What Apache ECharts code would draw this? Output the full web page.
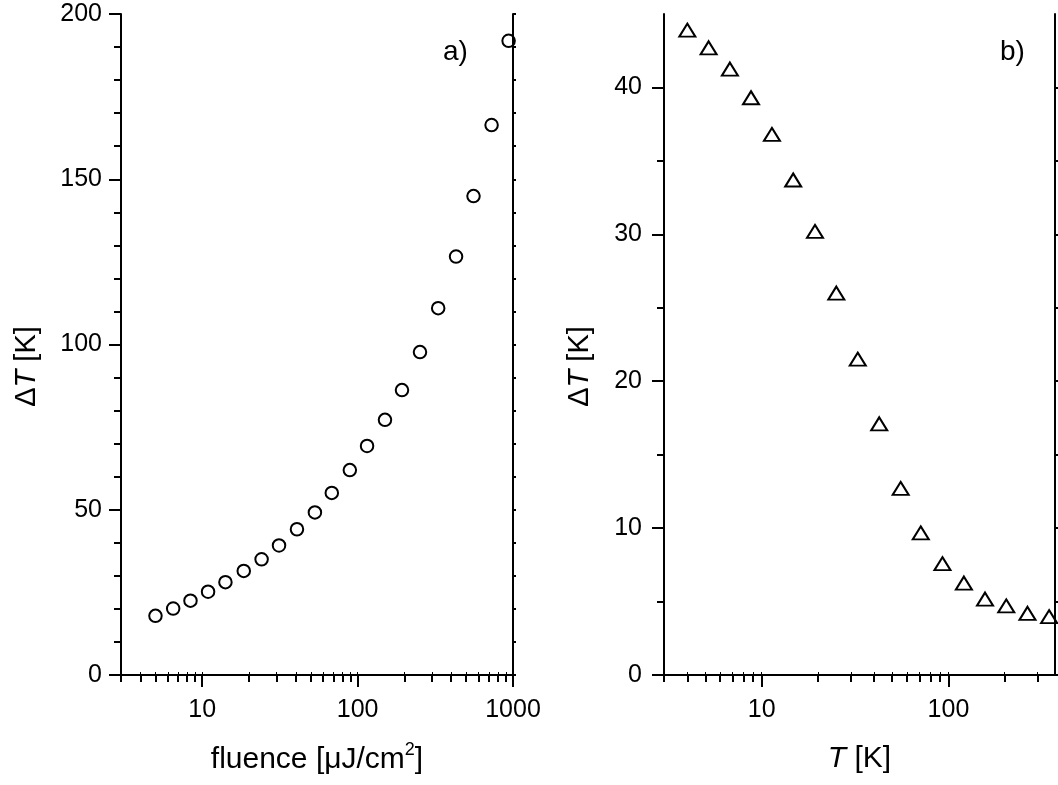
<!DOCTYPE html>
<html>
<head>
<meta charset="utf-8">
<script src="https://cdn.jsdelivr.net/npm/echarts@6/dist/echarts.min.js"></script>
<style>
html,body{margin:0;padding:0;background:#fff;}
#chart{width:1058px;height:785px;}
</style>
</head>
<body>
<div id="chart"></div>
<script>
// ---- data ----
const fluence = [5.0, 6.5, 8.4, 10.9, 14.1, 18.5, 24.1, 31.2, 40.7, 53.1, 68.2, 89.1, 115, 150, 193, 252, 330, 430, 557, 728, 937];
const dTfluence = [17.9, 20.1, 22.5, 25.2, 28.1, 31.5, 35.0, 39.2, 44.1, 49.2, 55.1, 62.0, 69.3, 77.2, 86.2, 97.7, 111.0, 126.6, 144.9, 166.4, 191.9];
const temperature = [4.0, 5.2, 6.76, 8.77, 11.35, 14.75, 19.3, 25.1, 32.7, 42.6, 55.5, 71.1, 92.9, 121, 157, 204, 265, 346];
const dTtemperature = [43.9, 42.7, 41.25, 39.3, 36.8, 33.7, 30.2, 26.0, 21.5, 17.1, 12.7, 9.67, 7.58, 6.26, 5.17, 4.70, 4.20, 3.97];

// ---- tick values ----
const xMajorA = [10, 100, 1000];
const xMinorA = [3, 4, 5, 6, 7, 8, 9, 20, 30, 40, 50, 60, 70, 80, 90, 200, 300, 400, 500, 600, 700, 800, 900];
const yMajorA = [0, 50, 100, 150, 200];
const yMinorA = [10, 20, 30, 40, 60, 70, 80, 90, 110, 120, 130, 140, 160, 170, 180, 190];
const xMajorB = [10, 100];
const xMinorB = [3, 4, 5, 6, 7, 8, 9, 20, 30, 40, 50, 60, 70, 80, 90, 200, 300];
const yMajorB = [0, 10, 20, 30, 40];
const yMinorB = [5, 15, 25, 35];

const FONT = '"Liberation Sans", Arial, Helvetica, sans-serif';
const black = '#000';
const TICKFONT = 25;
const TITLEFONT = 30;

function plain(v) { return String(Math.round(v * 1000) / 1000); }

function xAxes(grid, min, max, major, minor, nameRich, nameGap) {
  const line = {show: true, lineStyle: {color: black, width: 2}};
  return [
    {gridIndex: grid, type: 'log', logBase: 10, min: min, max: max, position: 'bottom',
     axisLine: line,
     axisTick: {show: true, customValues: major, length: 12, lineStyle: {color: black, width: 2}},
     axisLabel: {show: true, customValues: major, margin: 23, fontSize: TICKFONT, color: black, fontFamily: FONT, formatter: plain},
     splitLine: {show: false},
     name: nameRich.text, nameLocation: 'middle', nameGap: nameGap, nameMoveOverlap: false,
     nameTextStyle: {color: black, fontFamily: FONT, fontSize: TITLEFONT, rich: nameRich.rich}},
    {gridIndex: grid, type: 'log', logBase: 10, min: min, max: max, position: 'bottom',
     axisLine: {show: false},
     axisTick: {show: true, customValues: minor, length: 7, lineStyle: {color: black, width: 2}},
     axisLabel: {show: false}, splitLine: {show: false}},
    {gridIndex: grid, type: 'log', logBase: 10, min: min, max: max, position: 'top',
     axisLine: line,
     axisTick: {show: true, customValues: major.concat(minor), length: 3, lineStyle: {color: black, width: 1}},
     axisLabel: {show: false}, splitLine: {show: false}}
  ];
}

function yAxes(grid, min, max, major, minor, nameGap, labelMargin) {
  const line = {show: true, lineStyle: {color: black, width: 2}};
  return [
    {gridIndex: grid, type: 'value', min: min, max: max, position: 'left',
     axisLine: line,
     axisTick: {show: true, customValues: major, length: 12, lineStyle: {color: black, width: 2}},
     axisLabel: {show: true, customValues: major, margin: labelMargin, fontSize: TICKFONT, color: black, fontFamily: FONT, formatter: plain},
     splitLine: {show: false},
     name: '{n|Δ}{i|T}{n| [K]}', nameLocation: 'middle', nameGap: nameGap, nameMoveOverlap: false,
     nameTextStyle: {color: black, fontFamily: FONT, fontSize: TITLEFONT, padding: [0, 44, 0, 0],
       rich: {n: {fontSize: 29, fontFamily: FONT, color: black},
              i: {fontSize: 29, fontFamily: FONT, color: black, fontStyle: 'italic'}}}},
    {gridIndex: grid, type: 'value', min: min, max: max, position: 'left',
     axisLine: {show: false},
     axisTick: {show: true, customValues: minor, length: 7, lineStyle: {color: black, width: 2}},
     axisLabel: {show: false}, splitLine: {show: false}},
    {gridIndex: grid, type: 'value', min: min, max: max, position: 'right',
     axisLine: line,
     axisTick: {show: true, customValues: major.concat(minor), length: 3, lineStyle: {color: black, width: 2}},
     axisLabel: {show: false}, splitLine: {show: false}}
  ];
}

const nameA = {
  text: '{n|fluence [μJ/cm}{s|2}{n|]}',
  rich: {n: {fontSize: TITLEFONT, fontFamily: FONT, color: black, lineHeight: 34, verticalAlign: 'bottom'},
         s: {fontSize: 18, fontFamily: FONT, color: black, lineHeight: 34, verticalAlign: 'top'}}
};
const nameB = {
  text: '{i|T}{n| [K]}',
  rich: {n: {fontSize: TITLEFONT, fontFamily: FONT, color: black},
         i: {fontSize: TITLEFONT, fontFamily: FONT, color: black, fontStyle: 'italic'}}
};

const chart = echarts.init(document.getElementById('chart'), null, {renderer: 'canvas'});
chart.setOption({
  backgroundColor: '#fff',
  animation: false,
  grid: [
    {left: 121, top: 14, width: 392, height: 661, containLabel: false},
    {left: 664, top: 14, width: 391, height: 661, containLabel: false}
  ],
  xAxis: xAxes(0, 3, 1000, xMajorA, xMinorA, nameA, 66).concat(xAxes(1, 3, 372, xMajorB, xMinorB, nameB, 69)),
  yAxis: yAxes(0, 0, 200, yMajorA, yMinorA, 80, 19).concat(yAxes(1, 0, 45, yMajorB, yMinorB, 70, 22)),
  graphic: [
    {type: 'text', left: 443, top: 38, style: {text: 'a)', font: '28px ' + FONT, fill: black}},
    {type: 'text', left: 1000, top: 38, style: {text: 'b)', font: '28px ' + FONT, fill: black}}
  ],
  series: [
    {type: 'scatter', xAxisIndex: 0, yAxisIndex: 0,
     data: fluence.map((x, i) => [x, dTfluence[i]]),
     symbol: 'circle', symbolSize: 12.5,
     itemStyle: {color: 'rgba(255,255,255,0)', borderColor: black, borderWidth: 2, opacity: 1}},
    {type: 'scatter', xAxisIndex: 3, yAxisIndex: 3,
     data: temperature.map((x, i) => [x, dTtemperature[i]]),
     symbol: 'triangle', symbolSize: [16, 13],
     itemStyle: {color: 'rgba(255,255,255,0)', borderColor: black, borderWidth: 2, opacity: 1}}
  ]
});
</script>
</body>
</html>
